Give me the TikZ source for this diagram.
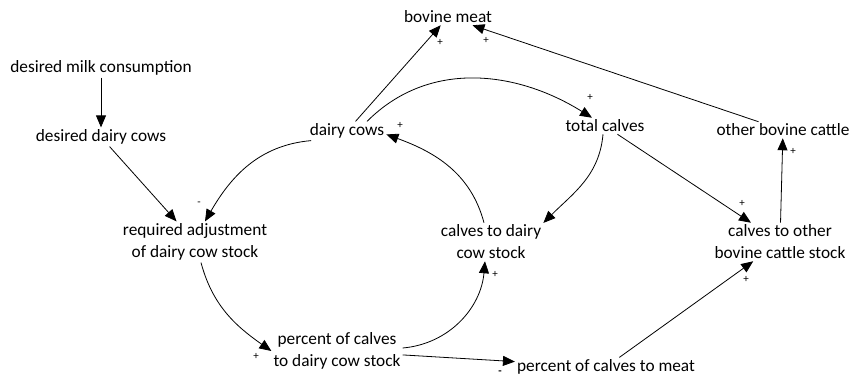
\documentclass[tikz,border=0pt]{standalone}
\usepackage{fontspec}
\setmainfont{Carlito}
\usetikzlibrary{arrows.meta}

\begin{document}
\begin{tikzpicture}[x=1pt, y=1pt,
  var/.style={inner sep=2pt, align=center, font=\fontsize{17.3}{22}\selectfont},
  link/.style={line width=0.8pt, -{Triangle[length=12pt, width=10pt]}},
  sgn/.style={inner sep=0pt, font=\fontsize{11}{11}\selectfont}]

% Fix the picture size
\useasboundingbox (0,0) rectangle (850,-378);

% Variables
\node[var] (bm)  at (448,-17)  {bovine meat};
\node[var] (dmc) at (101,-68)  {desired milk consumption};
\node[var] (ddc) at (101,-137) {desired dairy cows};
\node[var] (dc)  at (347,-131) {dairy cows};
\node[var] (tc)  at (605,-126) {total calves};
\node[var] (obc) at (783,-130) {other bovine cattle};
\node[var] (rad) at (195,-242) {required adjustment\\of dairy cow stock};
\node[var] (ctd) at (491,-242) {calves to dairy\\cow stock};
\node[var] (cto) at (780,-242) {calves to other\\bovine cattle stock};
\node[var] (pcd) at (337,-351) {percent of calves\\to dairy cow stock};
\node[var] (pcm) at (606,-367) {percent of calves to meat};

% Straight links
\draw[link] (dmc) -- (ddc);
\draw[link] (ddc) -- (rad);
\draw[link] (dc) -- (bm);
\draw[link] (obc) -- (bm);
\draw[link] (tc) -- (cto);
\draw[link] (cto) -- (obc);
\draw[link] (pcd) -- (pcm);
\draw[link] (pcm) -- (cto);

% Curved links
\draw[link] (dc.195) to[out=185, in=60] ([xshift=10pt]rad.north);
\draw[link] ([xshift=20pt]dc.north) to[out=45, in=148] ([xshift=-13pt]tc.north);
\draw[link] ([xshift=-2pt]tc.south) to[out=-95, in=45] (ctd.20);
\draw[link] ([xshift=-7pt]ctd.north) to[out=105, in=-20] (dc.-5);
\draw[link] ([xshift=6pt]rad.south) to[out=-75, in=145] (pcd.west);
\draw[link] ([yshift=3pt]pcd.east) to[out=5, in=-95] ([xshift=-6pt]ctd.south);

% Polarity signs
\node[sgn] (s1)  at (440,-42)  {+};
\node[sgn] (s2)  at (486,-40)  {+};
\node[sgn] (s3)  at (590,-97)  {+};
\node[sgn] (s4)  at (400,-125) {+};
\node[sgn] (s5)  at (199,-204) {-};
\node[sgn] (s6)  at (742,-203) {+};
\node[sgn] (s7)  at (793,-151) {+};
\node[sgn] (s8)  at (495,-274) {+};
\node[sgn] (s9)  at (256,-356) {+};
\node[sgn] (s10) at (500,-373) {\textbf{-}};
\node[sgn] (s11) at (746,-279) {+};

\end{tikzpicture}
\end{document}
